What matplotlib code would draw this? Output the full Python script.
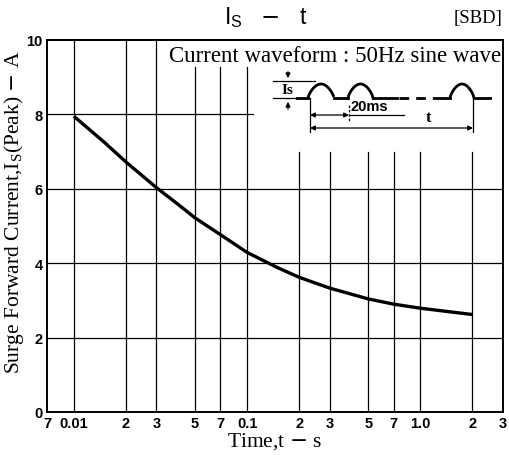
import numpy as np
import matplotlib
matplotlib.use("Agg")
import matplotlib.pyplot as plt

# curve (t in s, Is in A)
t_vals  = [0.01, 0.015, 0.02, 0.03, 0.04, 0.05, 0.07, 0.1, 0.15, 0.2, 0.3, 0.5, 0.7, 1.0, 1.5, 2.0]
is_vals = [7.95, 7.25, 6.72, 6.03, 5.58, 5.22, 4.77, 4.29, 3.88, 3.62, 3.33, 3.04, 2.90, 2.79, 2.69, 2.62]

# axes scale / ticks
x_ticks  = [0.007, 0.01, 0.02, 0.03, 0.05, 0.07, 0.1, 0.2, 0.3, 0.5, 0.7, 1.0, 2.0, 3.0]
x_labels = ["7", "0.01", "2", "3", "5", "7", "0.1", "2", "3", "5", "7", "1.0", "2", "3"]
y_ticks  = [0, 2, 4, 6, 8, 10]

grid_x = [0.01, 0.02, 0.03, 0.05, 0.07, 0.1, 0.2, 0.3, 0.5, 0.7, 1.0, 2.0]
grid_top = [1, 1, 1, 0.927, 0.927, 0.927, 0.70, 0.70, 0.70, 0.70, 0.70, 0.70]

serif = "Liberation Serif"
sans = "Liberation Sans"

fig = plt.figure(figsize=(5.09, 4.56), dpi=100)
ax = fig.add_axes([47/509, 43/456, 456/509, 372/456])
ax.set_xscale("log")
ax.set_xlim(0.007, 3.0)
ax.set_ylim(0, 10)

# grid, drawn by hand because the inset box cuts the lines
for gx, top in zip(grid_x, grid_top):
    ax.axvline(gx, ymin=0, ymax=top, color="black", lw=0.9)
for gy in [2, 4, 6]:
    ax.axhline(gy, color="black", lw=0.9)
ax.axhline(8, xmin=0, xmax=0.452, color="black", lw=0.9)

ax.plot(t_vals, is_vals, color="black", lw=2.4, solid_capstyle="butt")

ax.set_xticks(x_ticks)
ax.set_xticklabels(x_labels)
ax.xaxis.set_minor_locator(matplotlib.ticker.NullLocator())
ax.set_yticks(y_ticks)
ax.tick_params(length=0, pad=3)
for lb in ax.get_xticklabels() + ax.get_yticklabels():
    lb.set_fontfamily(sans)
    lb.set_fontweight("bold")
    lb.set_fontsize(10.5)
for sp in ax.spines.values():
    sp.set_linewidth(1.4)

ax.set_xlabel("Time,t $-$ s", fontfamily=serif, fontsize=15.5, labelpad=0)
ax.set_ylabel("Surge Forward Current,I$_\\mathregular{S}$(Peak) $-$ A",
              fontfamily=serif, fontsize=15.5)
ax.yaxis.set_label_coords(-0.045, 0.54)

# overlay in pixel coordinates for the titles and the waveform sketch
ov = fig.add_axes([0, 0, 1, 1])
ov.set_xlim(0, 509)
ov.set_ylim(456, 0)
ov.axis("off")

ov.text(266, 18, "I$_\\mathregular{S}$   $-$   t", fontfamily=sans, fontsize=16.5,
        ha="center", va="center")
ov.text(503, 18, "[SBD]", fontfamily=serif, fontsize=13.5, ha="right", va="center")
ov.text(501, 57, "Current waveform : 50Hz sine wave", fontfamily=serif,
        fontsize=16.5, ha="right", va="center")

# waveform
base, peak = 99, 85
def hump(x0, x1):
    xs = np.linspace(x0, x1, 40)
    ys = base - (base - peak) * np.sin(np.pi * (xs - x0) / (x1 - x0)) ** 0.7
    return xs, ys

lw = 2.0
ov.plot([297, 308], [base, base], color="black", lw=lw)
ov.plot(*hump(308, 334), color="black", lw=lw)
ov.plot([334, 348], [base, base], color="black", lw=lw)
ov.plot(*hump(348, 373), color="black", lw=lw)
ov.plot([373, 397], [base, base], color="black", lw=lw)
ov.plot([399, 438], [base, base], color="black", lw=lw, ls=(0, (3.5, 2.5)))
ov.plot([438, 450], [base, base], color="black", lw=lw)
ov.plot(*hump(450, 474), color="black", lw=lw)
ov.plot([474, 490], [base, base], color="black", lw=lw)

# Is marker
ov.plot([273, 315], [82, 82], color="black", lw=0.9)
ov.plot([273, 297], [base, base], color="black", lw=0.9)
ov.annotate("", xy=(288, 82), xytext=(288, 70),
            arrowprops=dict(arrowstyle="-|>", color="black", lw=0.9, mutation_scale=7))
ov.annotate("", xy=(288, 100), xytext=(288, 113),
            arrowprops=dict(arrowstyle="-|>", color="black", lw=0.9, mutation_scale=7))
ov.text(287, 91, "Is", fontfamily=serif, fontweight="bold", fontsize=11,
        ha="center", va="center")

# 20ms and t spans
ov.plot([310, 310], [base, 133], color="black", lw=0.9)
ov.plot([473, 473], [base + 1, 133], color="black", lw=0.9)
ov.plot([349, 349], [106, 122], color="black", lw=0.9, ls=(0, (2, 1.5)))
ov.plot([349, 404], [116, 116], color="black", lw=0.9)
ov.annotate("", xy=(310, 116), xytext=(349, 116),
            arrowprops=dict(arrowstyle="<|-|>", color="black", lw=0.9, mutation_scale=7,
                            shrinkA=0, shrinkB=0))
ov.text(351, 114, "20ms", fontfamily=sans, fontweight="bold", fontsize=10.5,
        ha="left", va="bottom")
ov.annotate("", xy=(310, 129), xytext=(473, 129),
            arrowprops=dict(arrowstyle="<|-|>", color="black", lw=0.9, mutation_scale=7,
                            shrinkA=0, shrinkB=0))
ov.text(429, 126, "t", fontfamily=serif, fontweight="bold", fontsize=12,
        ha="center", va="bottom")

fig.savefig("out.png", dpi=100)
